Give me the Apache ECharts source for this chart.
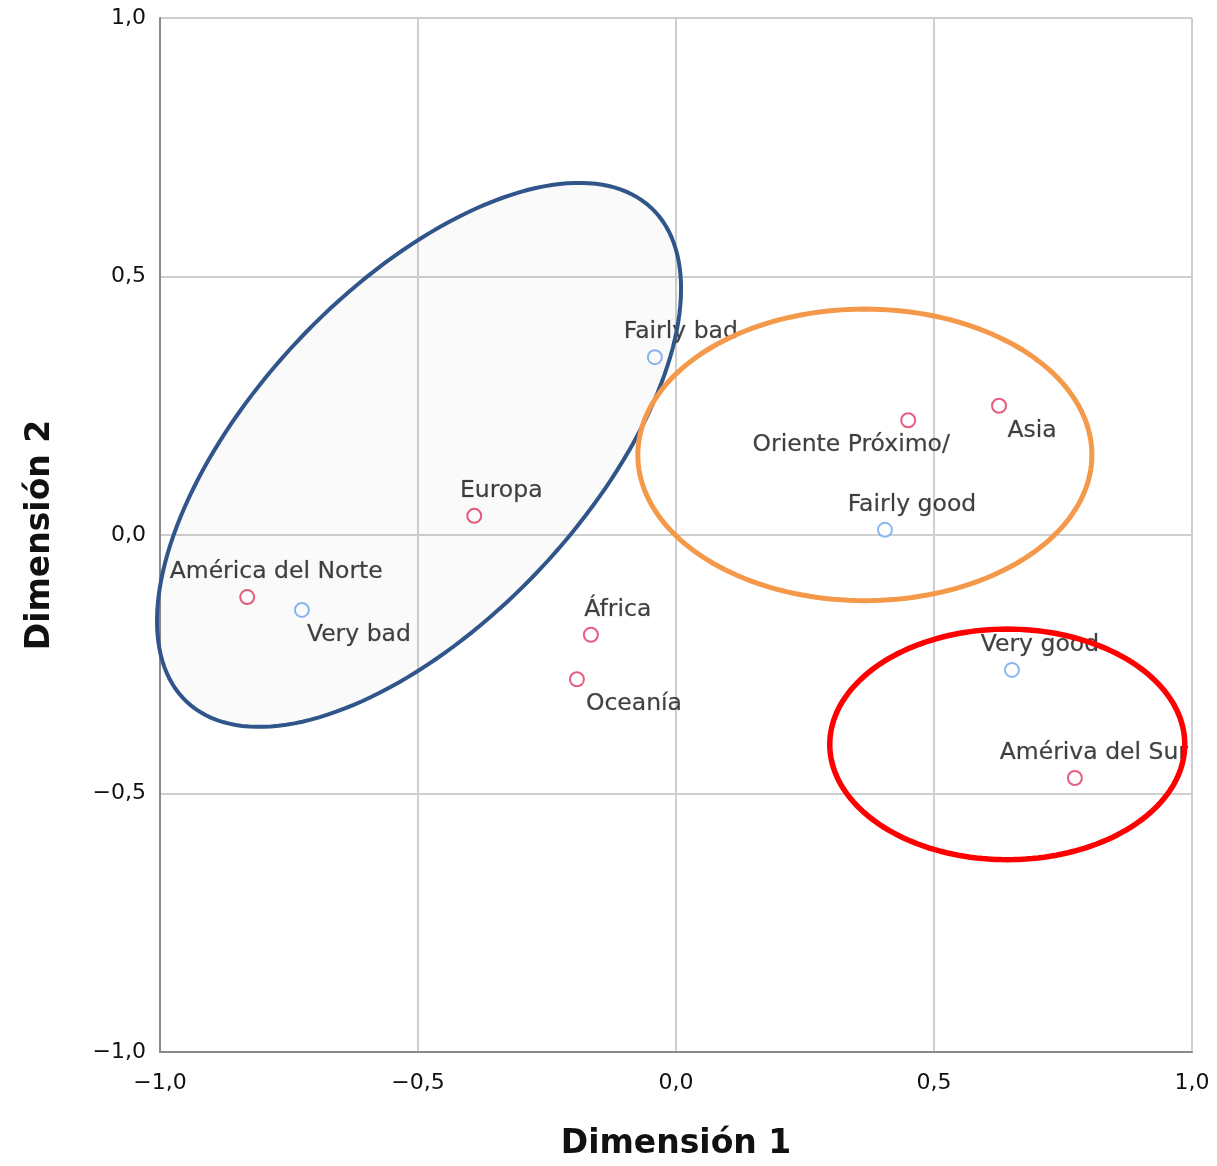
<!DOCTYPE html>
<html><head><meta charset="utf-8">
<script src="https://cdn.jsdelivr.net/npm/echarts@6/dist/echarts.min.js"></script>
<style>html,body{margin:0;padding:0;background:#fff}#c{width:1217px;height:1166px}</style>
</head><body><div id="c"></div>
<script>
// Row points (regions)
const regionNames = ['Oriente Próximo/', 'Asia', 'Europa', 'América del Norte', 'África', 'Oceanía', 'Amériva del Sur'];
const regionX = [0.450, 0.626, -0.391, -0.831, -0.165, -0.192, 0.773];
const regionY = [0.222, 0.250, 0.037, -0.120, -0.193, -0.279, -0.470];
// Column points (ratings)
const ratingNames = ['Fairly bad', 'Fairly good', 'Very bad', 'Very good'];
const ratingX = [-0.041, 0.405, -0.725, 0.651];
const ratingY = [0.344, 0.010, -0.145, -0.261];
// Axis ticks
const tickValues = [-1.0, -0.5, 0.0, 0.5, 1.0];
// Annotation ellipses: centre (data units), semi-axes (data units), rotation (deg)
const ellipseCx = [-0.498, 0.366, 0.642];
const ellipseCy = [0.155, 0.155, -0.405];
const ellipseA = [0.657, 0.440, 0.344];
const ellipseB = [0.322, 0.282, 0.223];
const ellipseRot = [46.75, 0, 0];

// Label layout (style, not data)
const labelLayout = {
  'Fairly bad': ['top', 26], 'Oriente Próximo/': ['bottom', -57], 'Asia': ['bottom', 33],
  'Fairly good': ['top', 27], 'Europa': ['top', 27], 'América del Norte': ['top', 29],
  'Very bad': ['bottom', 57], 'África': ['top', 27], 'Oceanía': ['bottom', 57],
  'Very good': ['top', 28], 'Amériva del Sur': ['top', 19]
};
const ellipseStyles = [
  {stroke: '#30558a', lineWidth: 4, fill: 'rgba(0,0,0,0.018)'},
  {stroke: '#f4994a', lineWidth: 5, fill: 'none'},
  {stroke: '#ff0000', lineWidth: 5.5, fill: 'none'}
];

function pts(names, xs, ys) {
  return names.map((n, i) => {
    const l = labelLayout[n];
    return {name: n, value: [xs[i], ys[i]],
      label: {position: l[0], offset: [l[1], 0]}};
  });
}
const fmt = v => (v < 0 ? '\u2212' : '') + Math.abs(v).toFixed(1).replace('.', ',');
const font = 'DejaVu Sans';

const chart = echarts.init(document.getElementById('c'), null, {renderer: 'canvas'});
const labelBase = {show: true, formatter: '{b}', fontFamily: font, fontSize: 23.5, color: '#111',
  textBorderColor: 'rgba(17,17,17,0.35)', textBorderWidth: 0.6, distance: 5};
chart.setOption({
  animation: false,
  backgroundColor: '#fff',
  grid: {left: 160, right: 25, top: 18, bottom: 114},
  xAxis: {
    type: 'value', min: -1, max: 1, interval: 0.5,
    name: 'Dimensión 1', nameLocation: 'middle', nameGap: 76,
    nameTextStyle: {fontFamily: font, fontSize: 33, fontWeight: 'bold', color: '#111'},
    axisLine: {show: true, onZero: false, lineStyle: {color: '#8a8a8a', width: 2}},
    axisTick: {show: false},
    axisLabel: {formatter: fmt, fontFamily: font, fontSize: 22, color: '#111', margin: 20},
    splitLine: {show: true, lineStyle: {color: '#cfcfcf', width: 2}}
  },
  yAxis: {
    type: 'value', min: -1, max: 1, interval: 0.5,
    name: 'Dimensión 2', nameLocation: 'middle', nameGap: 103, nameRotate: 90,
    nameTextStyle: {fontFamily: font, fontSize: 33, fontWeight: 'bold', color: '#111'},
    axisLine: {show: true, onZero: false, lineStyle: {color: '#8a8a8a', width: 2}},
    axisTick: {show: false},
    axisLabel: {formatter: fmt, fontFamily: font, fontSize: 22, color: '#111', margin: 14},
    splitLine: {show: true, lineStyle: {color: '#cfcfcf', width: 2}}
  },
  series: [
    {type: 'scatter', symbol: 'emptyCircle', symbolSize: 14,
     itemStyle: {color: '#e2345f', borderColor: '#e2345f', borderWidth: 2},
     label: labelBase, data: pts(regionNames, regionX, regionY), z: 3},
    {type: 'scatter', symbol: 'emptyCircle', symbolSize: 14,
     itemStyle: {color: '#6ea6ee', borderColor: '#6ea6ee', borderWidth: 2},
     label: labelBase, data: pts(ratingNames, ratingX, ratingY), z: 3},
    {type: 'custom', z: 5, silent: true, clip: false,
     data: ellipseCx.map((cx, i) => [cx, ellipseCy[i], ellipseA[i], ellipseB[i], ellipseRot[i]]),
     renderItem: function (params, api) {
       const i = params.dataIndex;
       const c = api.coord([api.value(0), api.value(1)]);
       const sz = api.size([api.value(2), api.value(3)]);
       const a = sz[0], b = sz[1];
       const rot = api.value(4) * Math.PI / 180;
       const ptsArr = [];
       for (let k = 0; k < 180; k++) {
         const t = k / 180 * Math.PI * 2;
         const ex = a * Math.cos(t), ey = b * Math.sin(t);
         ptsArr.push([c[0] + ex * Math.cos(rot) - ey * Math.sin(rot),
                      c[1] - (ex * Math.sin(rot) + ey * Math.cos(rot))]);
       }
       const st = ellipseStyles[i];
       return {type: 'polygon', shape: {points: ptsArr},
         style: {stroke: st.stroke, lineWidth: st.lineWidth, fill: st.fill}};
     }}
  ]
});
</script></body></html>
